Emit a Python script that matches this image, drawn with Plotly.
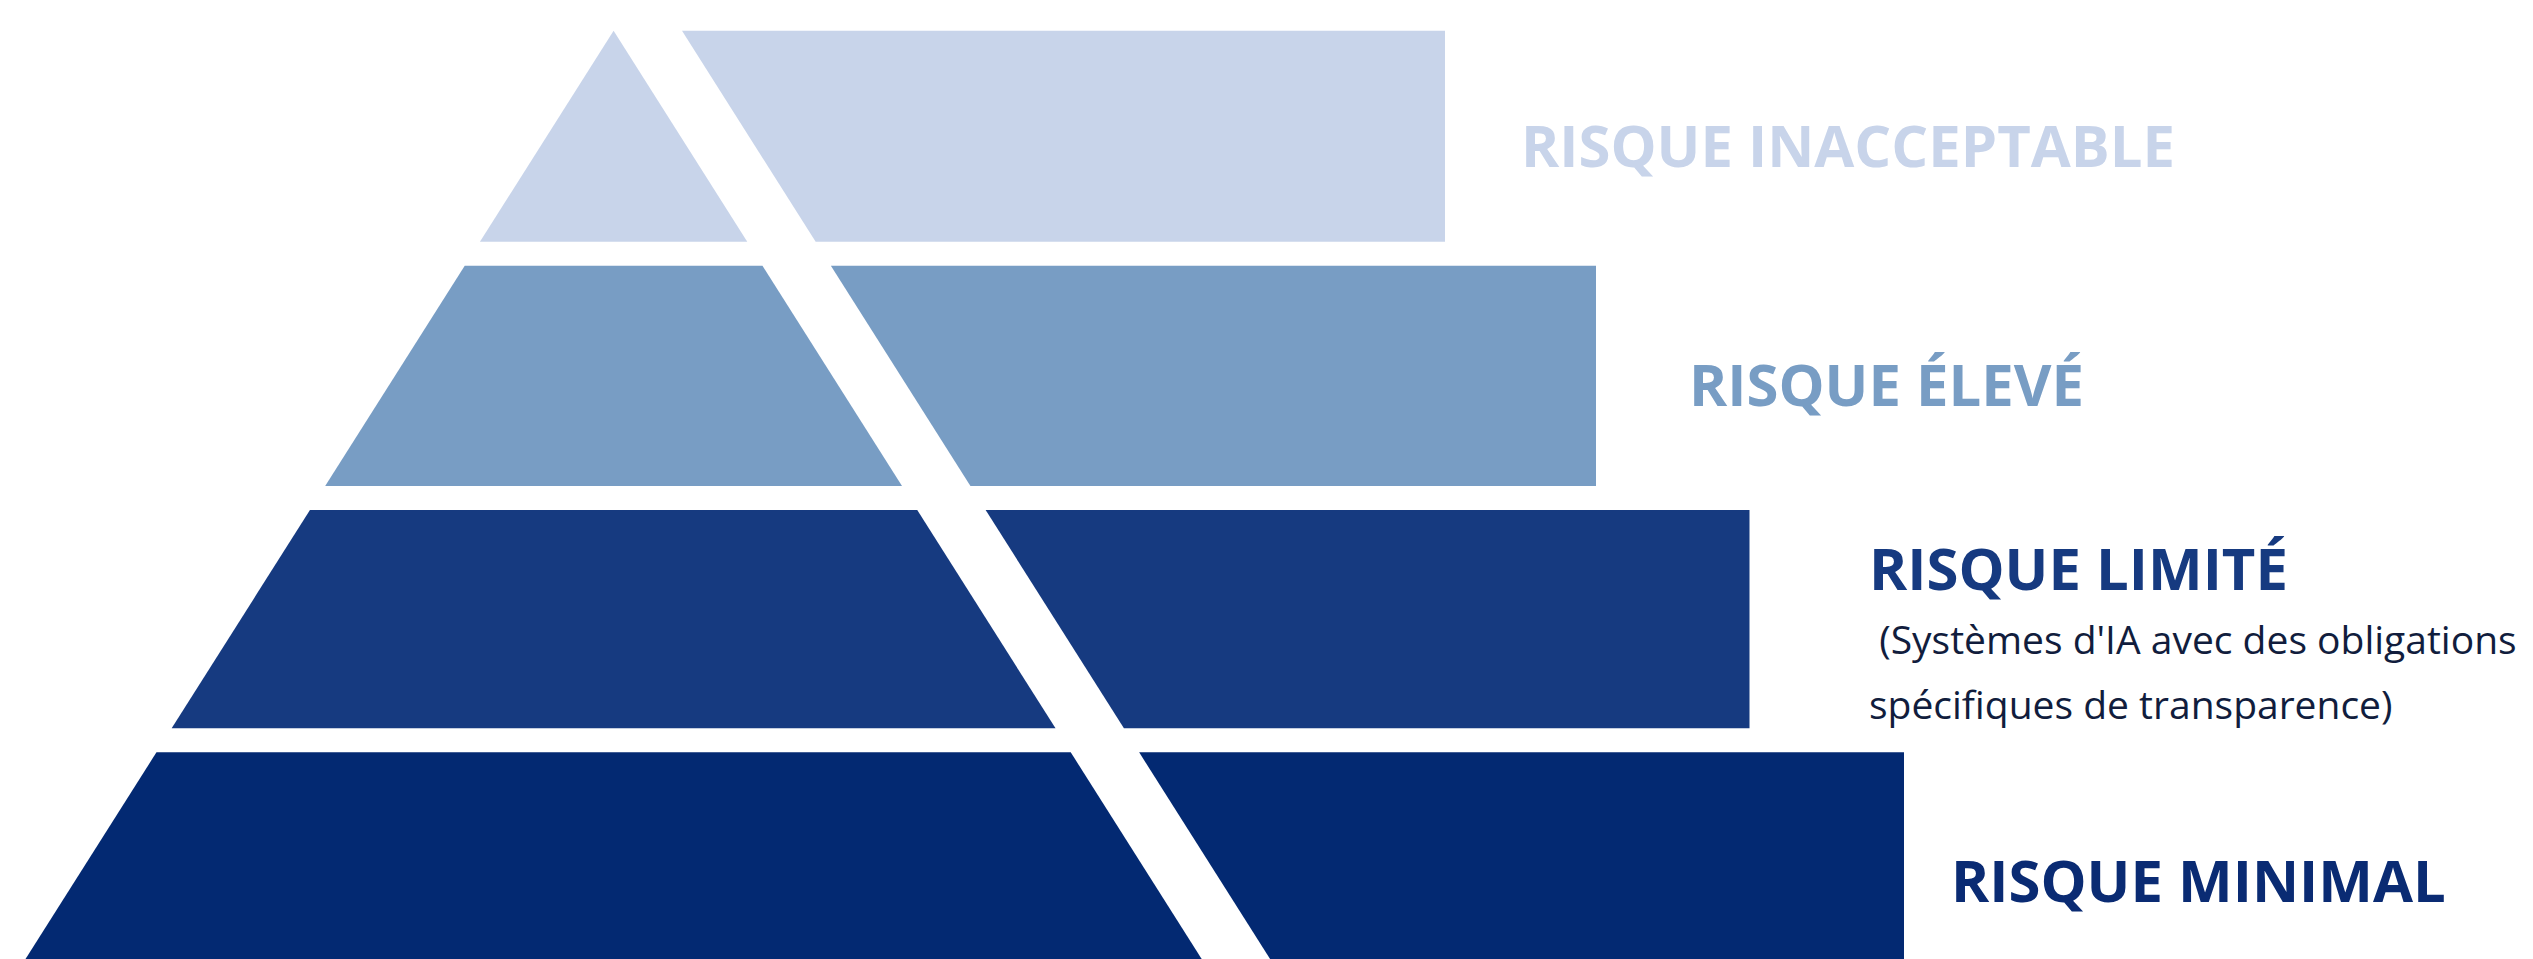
import plotly.graph_objects as go

# ---------------- data ----------------
tier_labels = ["RISQUE INACCEPTABLE", "RISQUE ÉLEVÉ", "RISQUE LIMITÉ", "RISQUE MINIMAL"]
tier_desc_lines = [[], [], [" (Systèmes d'IA avec des obligations", "spécifiques de transparence)"], []]
tier_colors = ["#C8D4EA", "#789DC4", "#163A80", "#032972"]
label_colors = ["#C8D4EA", "#789DC4", "#163A80", "#0A2B73"]
desc_color = "#111D3D"

# ---------------- geometry (pixel-like units) ----------------
W, H = 2533, 959
apex_x, apex_y = 613.6, 30.7
slope = 0.6335          # horizontal run per unit of height for pyramid sides
cut_offset = 68.4       # width of the white diagonal cut
tier_top = [30.7, 265.7, 510.0, 752.3]
tier_bottom = [241.7, 486.0, 728.3, 962.0]
panel_right = [1445.0, 1596.0, 1749.5, 1904.0]
label_x = [1520.5, 1689.0, 1869.0, 1951.0]
label_baseline = [166.7, 406.0, 590.0, 901.7]
desc_x = 1869.0
desc_baselines = [654.0, 719.0]

LABEL_SIZE = 58
DESC_SIZE = 39
ASC = 1.069  # Open Sans ascent (em)

fig = go.Figure()

def lx(y):
    return apex_x - slope * (y - apex_y)

def rx(y):
    return apex_x + slope * (y - apex_y)

for i in range(len(tier_labels)):
    t, b = tier_top[i], tier_bottom[i]
    # left (pyramid) piece
    fig.add_trace(go.Scatter(
        x=[lx(t), rx(t), rx(b), lx(b), lx(t)],
        y=[t, t, b, b, t],
        mode="lines", fill="toself", fillcolor=tier_colors[i],
        line=dict(width=0, color=tier_colors[i]), hoverinfo="skip",
    ))
    # right (extended) piece
    fig.add_trace(go.Scatter(
        x=[rx(t) + cut_offset, panel_right[i], panel_right[i], rx(b) + cut_offset, rx(t) + cut_offset],
        y=[t, t, b, b, t],
        mode="lines", fill="toself", fillcolor=tier_colors[i],
        line=dict(width=0, color=tier_colors[i]), hoverinfo="skip",
    ))
    fig.add_annotation(
        x=label_x[i], y=label_baseline[i] - ASC * LABEL_SIZE,
        xref="x", yref="y", xanchor="left", yanchor="top",
        text="<b>" + tier_labels[i] + "</b>", showarrow=False,
        font=dict(family="Open Sans", size=LABEL_SIZE, color=label_colors[i]),
        borderpad=0, borderwidth=0,
    )
    for j, line in enumerate(tier_desc_lines[i]):
        fig.add_annotation(
            x=desc_x, y=desc_baselines[j] - ASC * DESC_SIZE,
            xref="x", yref="y", xanchor="left", yanchor="top",
            text=line.replace(" ", "&nbsp;", 1) if line.startswith(" ") else line,
            showarrow=False,
            font=dict(family="Open Sans", size=DESC_SIZE, color=desc_color),
            borderpad=0, borderwidth=0,
        )

fig.update_layout(
    width=W, height=H,
    margin=dict(l=0, r=0, t=0, b=0),
    paper_bgcolor="white", plot_bgcolor="white",
    showlegend=False,
    xaxis=dict(range=[0, W], visible=False, fixedrange=True),
    yaxis=dict(range=[H, 0], visible=False, fixedrange=True),
)

fig.write_html(
    "out.html",
    config={"displayModeBar": False},
    post_script="document.body.style.margin='0';document.body.style.overflow='hidden';",
)
